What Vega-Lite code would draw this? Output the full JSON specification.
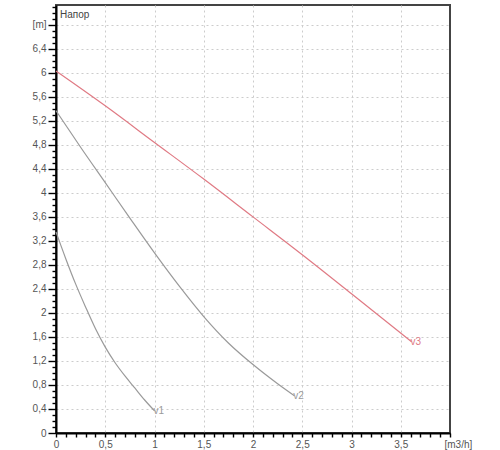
{
  "$schema": "https://vega.github.io/schema/vega-lite/v6.json",
  "width": 394,
  "height": 428,
  "autosize": {"type": "none"},
  "padding": {"left": 56, "top": 5, "right": 50, "bottom": 17},
  "background": "white",
  "title": {"text": "Напор", "anchor": "start", "frame": "group", "orient": "top", "baseline": "middle", "dx": 4, "dy": 23, "offset": 0, "fontSize": 10, "fontWeight": "normal", "font": "Liberation Sans", "color": "#444444"},
  "config": {
    "view": {"stroke": "#444444", "strokeWidth": 2},
    "axis": {"labelFont": "Liberation Sans", "labelFontSize": 10, "labelColor": "#555555", "labelOverlap": false, "labelFlush": false, "domainColor": "#000000", "domainWidth": 2, "tickColor": "#000000", "tickWidth": 1.4, "gridColor": "#cccccc", "gridDash": [2, 3], "gridWidth": 1, "title": null}
  },
  "data": {"values": [
    {"s": "v1", "x": 0.0, "y": 3.35},
    {"s": "v1", "x": 0.1, "y": 2.9},
    {"s": "v1", "x": 0.2, "y": 2.48},
    {"s": "v1", "x": 0.3, "y": 2.1},
    {"s": "v1", "x": 0.4, "y": 1.74},
    {"s": "v1", "x": 0.5, "y": 1.43},
    {"s": "v1", "x": 0.6, "y": 1.17},
    {"s": "v1", "x": 0.7, "y": 0.95},
    {"s": "v1", "x": 0.8, "y": 0.75},
    {"s": "v1", "x": 0.9, "y": 0.55},
    {"s": "v1", "x": 1.0, "y": 0.37},
    {"s": "v2", "x": 0.0, "y": 5.37},
    {"s": "v2", "x": 0.25, "y": 4.76},
    {"s": "v2", "x": 0.5, "y": 4.17},
    {"s": "v2", "x": 0.75, "y": 3.58},
    {"s": "v2", "x": 1.0, "y": 3.0},
    {"s": "v2", "x": 1.25, "y": 2.45},
    {"s": "v2", "x": 1.5, "y": 1.94},
    {"s": "v2", "x": 1.75, "y": 1.5},
    {"s": "v2", "x": 2.0, "y": 1.14},
    {"s": "v2", "x": 2.25, "y": 0.82},
    {"s": "v2", "x": 2.42, "y": 0.62},
    {"s": "v3", "x": 0.0, "y": 6.03},
    {"s": "v3", "x": 0.5, "y": 5.45},
    {"s": "v3", "x": 1.0, "y": 4.84},
    {"s": "v3", "x": 1.5, "y": 4.23},
    {"s": "v3", "x": 2.0, "y": 3.6},
    {"s": "v3", "x": 2.5, "y": 2.97},
    {"s": "v3", "x": 3.0, "y": 2.32},
    {"s": "v3", "x": 3.61, "y": 1.52}
  ]},
  "encoding": {
    "x": {"field": "x", "type": "quantitative", "scale": {"domain": [0, 4], "nice": false, "zero": false},
      "axis": {
        "values": [0,0.1,0.2,0.3,0.4,0.5,0.6,0.7,0.8,0.9,1,1.1,1.2,1.3,1.4,1.5,1.6,1.7,1.8,1.9,2,2.1,2.2,2.3,2.4,2.5,2.6,2.7,2.8,2.9,3,3.1,3.2,3.3,3.4,3.5,3.6,3.7,3.8,3.9,4],
        "labelExpr": "abs(datum.value/0.5 - round(datum.value/0.5)) < 0.01 ? (datum.value > 3.9 ? '[m3/h]' : replace(format(datum.value, '.1~f'), '.', ',')) : ''",
        "tickSize": 4,
        "gridOpacity": {"condition": {"test": "abs(datum.value/0.5 - round(datum.value/0.5)) < 0.01 && datum.value > 0.01 && datum.value < 3.9", "value": 1}, "value": 0},
        "labelAlign": {"condition": {"test": "datum.value > 3.9", "value": "left"}, "value": "center"},
        "labelOffset": {"condition": {"test": "datum.value > 3.9", "value": -6}, "value": 0},
        "labelPadding": 2
      }},
    "y": {"field": "y", "type": "quantitative", "scale": {"domain": [0, 7.13], "nice": false, "zero": false},
      "axis": {
        "values": [0,0.1,0.2,0.3,0.4,0.5,0.6,0.7,0.8,0.9,1,1.1,1.2,1.3,1.4,1.5,1.6,1.7,1.8,1.9,2,2.1,2.2,2.3,2.4,2.5,2.6,2.7,2.8,2.9,3,3.1,3.2,3.3,3.4,3.5,3.6,3.7,3.8,3.9,4,4.1,4.2,4.3,4.4,4.5,4.6,4.7,4.8,4.9,5,5.1,5.2,5.3,5.4,5.5,5.6,5.7,5.8,5.9,6,6.1,6.2,6.3,6.4,6.5,6.6,6.7,6.8,6.9,7,7.1],
        "labelExpr": "abs(datum.value/0.4 - round(datum.value/0.4)) < 0.01 ? (datum.value > 6.7 ? '[m]' : replace(format(datum.value, '.1~f'), '.', ',')) : ''",
        "tickSize": {"condition": {"test": "abs(datum.value/0.4 - round(datum.value/0.4)) < 0.01", "value": 8}, "value": 4},
        "gridOpacity": {"condition": {"test": "abs(datum.value/0.4 - round(datum.value/0.4)) < 0.01 && datum.value > 0.01", "value": 1}, "value": 0},
        "labelPadding": 2
      }},
    "color": {"field": "s", "type": "nominal", "legend": null, "scale": {"domain": ["v1", "v2", "v3"], "range": ["#9a9a9a", "#9a9a9a", "#e07a84"]}}
  },
  "layer": [
    {"mark": {"type": "line", "strokeWidth": 1.2, "interpolate": "monotone"}},
    {
      "transform": [
        {"joinaggregate": [{"op": "max", "field": "x", "as": "mx"}], "groupby": ["s"]},
        {"filter": "datum.x == datum.mx"}
      ],
      "mark": {"type": "text", "align": "left", "baseline": "middle", "dx": -1, "fontSize": 10, "font": "Liberation Sans"},
      "encoding": {"text": {"field": "s"}}
    }
  ]
}
